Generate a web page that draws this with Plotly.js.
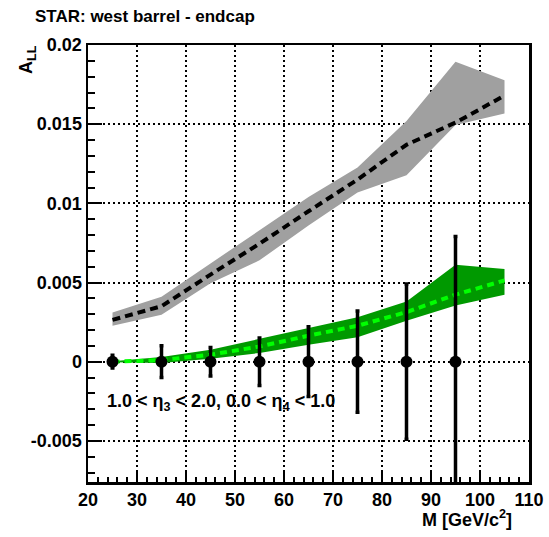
<!DOCTYPE html>
<html>
<head>
<meta charset="utf-8">
<script src="https://cdn.plot.ly/plotly-3.0.1.min.js"></script>
<style>
  html, body { margin: 0; padding: 0; background: #fff; }
  #chart { width: 549px; height: 537px; }
</style>
</head>
<body>
<div id="chart"></div>
<script>
// Dijet invariant mass bins (GeV/c^2)
const massBins = [25, 35, 45, 55, 65, 75, 85, 95];
const measuredALL = [0, 0, 0, 0, 0, 0, 0, 0];
const measuredErr = [0.0004, 0.001, 0.0009, 0.0015, 0.0022, 0.0032, 0.0049, 0.0079];

// Model curves evaluated at bin centres 25..105
const curveMass = [25, 35, 45, 55, 65, 75, 85, 95, 105];

// Grey band model
const greyCentral = [0.00264, 0.00350, 0.00550, 0.00745, 0.00950, 0.01150, 0.01370, 0.01510, 0.01680];
const greyUpper   = [0.00310, 0.00410, 0.00620, 0.00830, 0.01040, 0.01226, 0.01520, 0.01894, 0.01778];
const greyLower   = [0.00227, 0.00296, 0.00495, 0.00640, 0.00860, 0.01068, 0.01177, 0.01494, 0.01568];

// Green band model
const greenCentral = [0.00000, 0.00010, 0.00044, 0.00096, 0.00164, 0.00227, 0.00313, 0.00423, 0.00513];
const greenUpper   = [0.00003, 0.00030, 0.00076, 0.00143, 0.00213, 0.00280, 0.00380, 0.00612, 0.00585];
const greenLower   = [-0.00003, -0.00008, 0.00018, 0.00055, 0.00107, 0.00154, 0.00259, 0.00355, 0.00423];

// Axis ticks
const yTickVals = [-0.005, 0, 0.005, 0.01, 0.015, 0.02];
const yTickText = ["-0.005", "0", "0.005", "0.01", "0.015", "0.02"];
const xTickVals = [20, 30, 40, 50, 60, 70, 80, 90, 100, 110];
const xTickText = ["20", "30", "40", "50", "60", "70", "80", "90", "100", "110"];

const FONT = "Liberation Sans, Arial, Helvetica, sans-serif";

function bandPolygon(xs, upper, lower) {
  return {
    x: xs.concat(xs.slice().reverse()),
    y: upper.concat(lower.slice().reverse())
  };
}

const greyPoly = bandPolygon(curveMass, greyUpper, greyLower);
const greenPoly = bandPolygon(curveMass, greenUpper, greenLower);

const traces = [
  {
    x: greyPoly.x, y: greyPoly.y, type: "scatter", mode: "lines",
    fill: "toself", fillcolor: "#a0a0a0", line: { width: 0, color: "#a0a0a0" },
    hoverinfo: "skip", showlegend: false
  },
  {
    x: curveMass, y: greyCentral, type: "scatter", mode: "lines",
    line: { color: "#000000", width: 4, dash: "8px,5px" },
    showlegend: false
  },
  {
    x: greenPoly.x, y: greenPoly.y, type: "scatter", mode: "lines",
    fill: "toself", fillcolor: "#009900", line: { width: 0, color: "#009900" },
    hoverinfo: "skip", showlegend: false
  },
  {
    x: curveMass, y: greenCentral, type: "scatter", mode: "lines",
    line: { color: "#00ff00", width: 4, dash: "7px,5px" },
    showlegend: false
  },
  {
    x: massBins, y: measuredALL, type: "scatter", mode: "markers",
    marker: { color: "#000000", size: 12, symbol: "circle" },
    error_y: { type: "data", array: measuredErr, visible: true, color: "#000000", thickness: 3.5, width: 2 },
    showlegend: false
  }
];

const axisCommon = {
  showline: true, linecolor: "#000000", linewidth: 2.5, mirror: true,
  ticks: "inside", tickcolor: "#000000", tickwidth: 2,
  showgrid: true, gridcolor: "#000000", gridwidth: 2, griddash: "2px,3px",
  zeroline: false,
  tickfont: { family: FONT, size: 18, color: "#000000", weight: "bold" },
  tickmode: "array"
};

const layout = {
  width: 549, height: 537,
  margin: { l: 88, r: 20, t: 45, b: 55 },
  paper_bgcolor: "#ffffff", plot_bgcolor: "#ffffff",
  font: { family: FONT, color: "#000000" },
  showlegend: false,
  title: {
    text: "STAR: west barrel - endcap",
    font: { family: FONT, size: 17, color: "#000000", weight: "bold" },
    xref: "container", yref: "container",
    x: 35 / 549, xanchor: "left", y: 1 - 16 / 537, yanchor: "middle"
  },
  xaxis: Object.assign({}, axisCommon, {
    range: [20, 110],
    tickvals: xTickVals, ticktext: xTickText,
    ticklen: 10,
    minor: { ticks: "inside", ticklen: 5, tickwidth: 2, tickcolor: "#000000", dtick: 2, showgrid: false }
  }),
  yaxis: Object.assign({}, axisCommon, {
    range: [-0.0076, 0.02],
    tickvals: yTickVals, ticktext: yTickText,
    ticklen: 14,
    minor: { ticks: "inside", ticklen: 7, tickwidth: 2, tickcolor: "#000000", dtick: 0.001, showgrid: false }
  }),
  annotations: [
    {
      text: "A<sub>LL</sub>", textangle: -90,
      xref: "paper", yref: "paper", x: (27 - 88) / 441, y: 1 - (60 - 45) / 437,
      xanchor: "center", yanchor: "middle", showarrow: false,
      font: { family: FONT, size: 18, color: "#000000", weight: "bold" }
    },
    {
      text: "M [GeV/c<sup>2</sup>]",
      xref: "paper", yref: "paper", x: (514 - 88) / 441, y: -(518 - 482) / 437,
      xanchor: "right", yanchor: "middle", showarrow: false,
      font: { family: FONT, size: 18, color: "#000000", weight: "bold" }
    },
    {
      text: "1.0 < η<sub>3</sub> < 2.0, 0.0 < η<sub>4</sub> < 1.0",
      xref: "paper", yref: "paper", x: (105 - 88) / 441, y: 1 - (402 - 45) / 437,
      xanchor: "left", yanchor: "middle", showarrow: false,
      font: { family: FONT, size: 18, color: "#000000", weight: "bold" }
    }
  ]
};

Plotly.newPlot("chart", traces, layout, { staticPlot: true, displayModeBar: false });
</script>
</body>
</html>
